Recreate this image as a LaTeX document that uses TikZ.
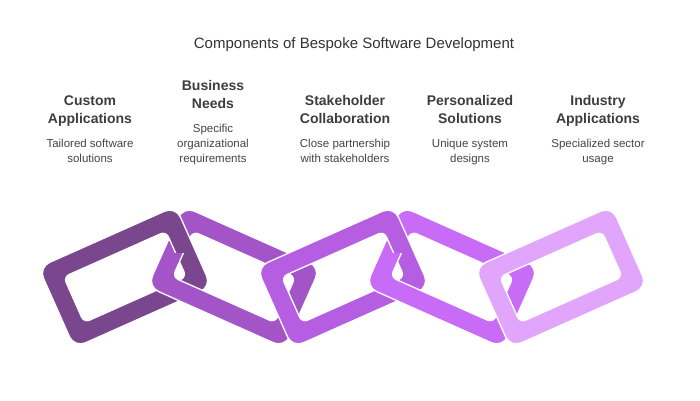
\documentclass[tikz,border=0pt]{standalone}
\usepackage{fontspec}
\setmainfont{Liberation Sans}
\usetikzlibrary{positioning}
\definecolor{ringA}{HTML}{7A478F}
\definecolor{ringB}{HTML}{A355C8}
\definecolor{ringC}{HTML}{B65EE2}
\definecolor{ringD}{HTML}{C86CF8}
\definecolor{ringE}{HTML}{E1A6FC}
\definecolor{titlegray}{HTML}{333333}
\definecolor{headgray}{HTML}{3D3D3D}
\definecolor{descgray}{HTML}{444444}
\tikzset{
	ring_link/.pic = {
		\filldraw[pic actions, draw=white, line width=1.3pt, even odd rule, rounded corners=12pt]
			(-75,-44) rectangle (75,44)
			[rounded corners=6pt] (-56,-25) rectangle (56,25);
	},
	title_text/.style = {
		font=\fontsize{15}{18}\selectfont,
		text=titlegray
	},
	head_text/.style = {
		align=center,
		inner sep=0pt,
		font=\fontsize{14}{18}\selectfont\bfseries,
		text=headgray,
		execute at end node=\strut
	},
	desc_text/.style = {
		align=center,
		inner sep=0pt,
		anchor=south,
		font=\fontsize{11.5}{15}\selectfont,
		text=descgray,
		execute at end node=\strut
	},
}
\begin{document}
\begin{tikzpicture}[x=1pt, y=1pt]
\useasboundingbox (0,0) rectangle (700,400);

\node [title_text] (title) at (354,355) {Components of Bespoke Software Development};

% descriptions first, headings sit on top of them
\node [desc_text] (d_custom) at (90,233) {Tailored software\\solutions};
\node [desc_text] (d_business) at (213,233) {Specific\\organizational\\requirements};
\node [desc_text] (d_stake) at (345,233) {Close partnership\\with stakeholders};
\node [desc_text] (d_personal) at (470,233) {Unique system\\designs};
\node [desc_text] (d_industry) at (598,233) {Specialized sector\\usage};

\node [head_text, above=10pt of d_custom] (h_custom) {Custom\\Applications};
\node [head_text, above=10pt of d_business] (h_business) {Business\\Needs};
\node [head_text, above=10pt of d_stake] (h_stake) {Stakeholder\\Collaboration};
\node [head_text, above=10pt of d_personal] (h_personal) {Personalized\\Solutions};
\node [head_text, above=10pt of d_industry] (h_industry) {Industry\\Applications};

% the chain
\pic [fill=ringA, rotate=24] at (125,123) {ring_link};
\pic [fill=ringB, rotate=-24] at (234,123) {ring_link};
\pic [fill=ringC, rotate=24] at (343,123) {ring_link};
\pic [fill=ringD, rotate=-24] at (452,123) {ring_link};
\pic [fill=ringE, rotate=24] at (561,123) {ring_link};

% upper crossings: left ring passes over
\begin{scope}
	\clip (145,148) rectangle (225,205);
	\pic [fill=ringA, rotate=24] at (125,123) {ring_link};
\end{scope}
\begin{scope}
	\clip (254,148) rectangle (334,205);
	\pic [fill=ringB, rotate=-24] at (234,123) {ring_link};
\end{scope}
\begin{scope}
	\clip (363,148) rectangle (443,205);
	\pic [fill=ringC, rotate=24] at (343,123) {ring_link};
\end{scope}
\begin{scope}
	\clip (472,148) rectangle (552,205);
	\pic [fill=ringD, rotate=-24] at (452,123) {ring_link};
\end{scope}
\end{tikzpicture}
\end{document}
